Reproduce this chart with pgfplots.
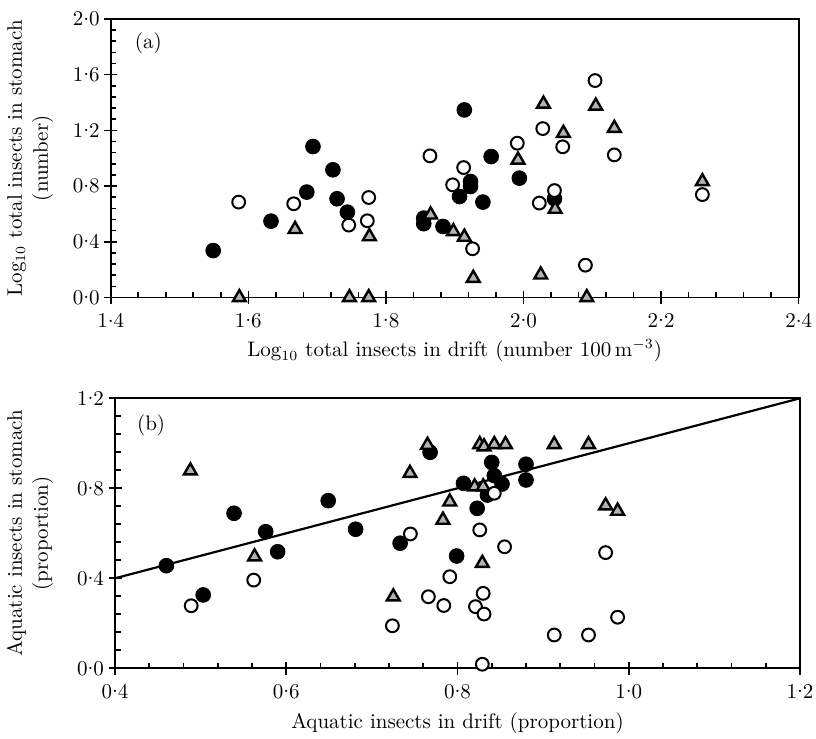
\documentclass[border=0pt]{standalone}
\usepackage{pgfplots}
\pgfplotsset{compat=1.18}
% decimal numbers written with a raised point, as in the journal style
\newcommand{\dn}[2]{\mbox{#1\raisebox{0.27em}{.}#2}}
\begin{document}
\begin{tikzpicture}[x=1pt,y=1pt]
\path[use as bounding box] (0,0) rectangle (408,369.5);
\pgfplotsset{
  panel/.style={
    scale only axis,
    clip=false,
    tick pos=left,
    tick align=inside,
    minor tick num=4,
    major tick length=6.5pt,
    minor tick length=2.8pt,
    major x tick style={yshift=-3.2pt},
    major y tick style={xshift=-3.2pt},
    every tick/.append style={line width=0.8pt, black},
    axis line style={line width=0.9pt},
    tick label style={font=\fontsize{10.5}{12}\selectfont},
    label style={font=\fontsize{10.5}{13}\selectfont},
    xticklabel style={yshift=-4.5pt},
    yticklabel style={xshift=-2pt},
    ylabel style={align=center, anchor=center},
  },
  filled/.style={only marks, mark=*, mark size=3.7pt,
    mark options={fill=black, draw=black}},
  hollow/.style={only marks, mark=*, mark size=3.2pt,
    mark options={fill=white, draw=black, line width=1pt}},
  tri/.style={only marks, mark=triangle*, mark size=3.7pt,
    mark options={fill=gray!60, draw=black, line width=1.2pt, line join=miter}},
}

% (a) total insects in stomach against total insects in drift
\begin{axis}[panel,
  at={(55.35pt,220.75pt)}, anchor=south west,
  width=344pt, height=139.25pt,
  xmin=1.4, xmax=2.4, ymin=0, ymax=2.0,
  xtick={1.4,1.6,1.8,2.0,2.2,2.4},
  xticklabels={\dn14,\dn16,\dn18,\dn20,\dn22,\dn24},
  ytick={0,0.4,0.8,1.2,1.6,2.0},
  yticklabels={\dn00,\dn04,\dn08,\dn12,\dn16,\dn20},
  xlabel={Log$_{10}$ total insects in drift (number 100\,m$^{-3}$)},
  xlabel style={at={(axis description cs:0.5,-0.192)}, anchor=center},
  ylabel={Log$_{10}$ total insects in stomach\\(number)},
  ylabel style={at={(axis description cs:-0.117,0.5)}},
]
\addplot[filled] coordinates {
  (1.549,0.337) (1.633,0.548) (1.694,1.084) (1.685,0.757) (1.723,0.917)
  (1.729,0.709) (1.744,0.613) (1.855,0.570) (1.855,0.530) (1.883,0.510)
  (1.914,1.347) (1.953,1.012) (1.994,0.857) (1.923,0.833) (1.923,0.797)
  (1.907,0.725) (1.941,0.685) (2.045,0.709)
};
\addplot[hollow] coordinates {
  (1.586,0.685) (1.666,0.673) (1.746,0.520) (1.775,0.718) (1.773,0.551)
  (1.864,1.017) (1.897,0.809) (1.913,0.933) (1.926,0.350) (1.991,1.108)
  (2.028,1.213) (2.057,1.082) (2.104,1.558) (2.132,1.024) (2.045,0.768)
  (2.023,0.678) (2.090,0.232) (2.260,0.739)
};
\addplot[tri] coordinates {
  (1.587,0) (1.668,0.49) (1.747,0) (1.775,0) (1.776,0.438)
  (1.865,0.594) (2.029,1.39) (2.105,1.376) (2.058,1.18) (2.132,1.216)
  (1.992,0.988) (2.046,0.635) (1.898,0.474) (1.914,0.434) (1.927,0.139)
  (2.025,0.163) (2.092,0) (2.260,0.833)
};
\node[font=\fontsize{10.5}{12}\selectfont, anchor=west] at (axis description cs:0.025,0.914) {(a)};
\end{axis}

% (b) aquatic proportion in stomach against aquatic proportion in drift
\begin{axis}[panel,
  at={(57.5pt,35.35pt)}, anchor=south west,
  width=342.5pt, height=135pt,
  xmin=0.4, xmax=1.2, ymin=0, ymax=1.2,
  xtick={0.4,0.6,0.8,1.0,1.2},
  xticklabels={\dn04,\dn06,\dn08,\dn10,\dn12},
  ytick={0,0.4,0.8,1.2},
  yticklabels={\dn00,\dn04,\dn08,\dn12},
  xlabel={Aquatic insects in drift (proportion)},
  xlabel style={at={(axis description cs:0.5,-0.203)}, anchor=center},
  ylabel={Aquatic insects in stomach\\(proportion)},
  ylabel style={at={(axis description cs:-0.124,0.5)}},
]
\addplot[black, line width=1.1pt, no marks] coordinates {(0.4,0.4) (1.2,1.2)};
\addplot[filled] coordinates {
  (0.460,0.456) (0.503,0.326) (0.539,0.689) (0.576,0.607) (0.590,0.518)
  (0.649,0.745) (0.681,0.618) (0.733,0.556) (0.768,0.960) (0.840,0.915)
  (0.880,0.907) (0.880,0.837) (0.807,0.822) (0.843,0.856) (0.852,0.819)
  (0.835,0.770) (0.823,0.711) (0.799,0.499)
};
\addplot[tri] coordinates {
  (0.488,0.878) (0.563,0.496) (0.725,0.318) (0.7445,0.867) (0.765,0.992)
  (0.826,0.995) (0.831,0.985) (0.843,0.995) (0.856,0.995) (0.913,0.995)
  (0.953,0.995) (0.820,0.807) (0.830,0.807) (0.791,0.740) (0.783,0.659)
  (0.829,0.467) (0.973,0.723) (0.987,0.699)
};
\addplot[hollow] coordinates {
  (0.489,0.278) (0.562,0.392) (0.745,0.597) (0.724,0.189) (0.766,0.318)
  (0.784,0.279) (0.843,0.778) (0.826,0.615) (0.855,0.540) (0.973,0.514)
  (0.791,0.407) (0.830,0.333) (0.821,0.274) (0.831,0.241) (0.987,0.227)
  (0.913,0.148) (0.953,0.148) (0.829,0.018)
};
\node[font=\fontsize{10.5}{12}\selectfont, anchor=west] at (axis description cs:0.022,0.901) {(b)};
\end{axis}
\end{tikzpicture}
\end{document}
